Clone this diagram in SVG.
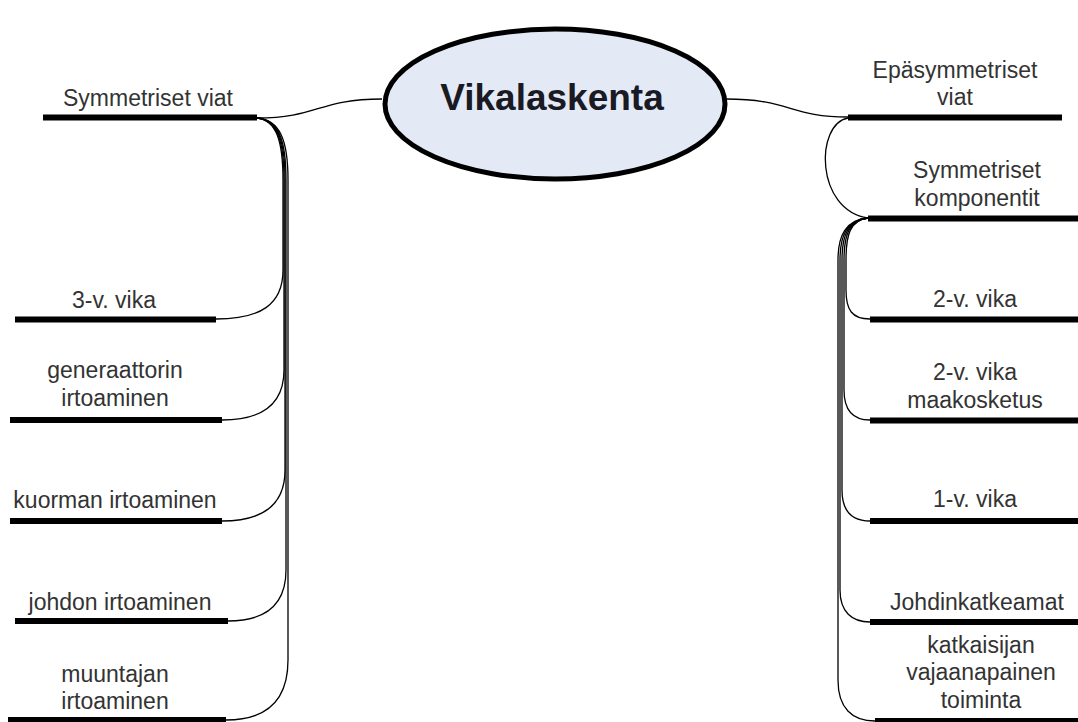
<svg xmlns="http://www.w3.org/2000/svg" width="1078" height="722" viewBox="0 0 1078 722">
<style>
.bar{stroke:#000;stroke-width:6;fill:none}
.c{stroke:#000;stroke-width:1.3;fill:none}
.t{font-family:"Liberation Sans",Arial,sans-serif;font-size:23px;fill:#333;text-anchor:middle}
.title{font-family:"Liberation Sans",Arial,sans-serif;font-size:37px;font-weight:bold;fill:#1a1a24;text-anchor:middle}
</style>
<rect width="1078" height="722" fill="#fff"/>
<g id="connectors">
<path class="c" d="M257,118 C318,118 318,99 382,99"/>
<path class="c" d="M726,99 C790,99 790,117 848,117"/>
<path class="c" d="M848,118 C815,124 815,210 868,218"/>
<path class="c" d="M257,118 C276,120 283,140 283,180 L283,270 C283,305 260,319 216,319"/>
<path class="c" d="M257,118 C277,120 284,140 284,180 L284,370 C284,405 262,420 222,420"/>
<path class="c" d="M257,118 C278,120 285,140 285,180 L285,470 C285,505 262,521 222,521"/>
<path class="c" d="M257,118 C279,120 286,140 286,180 L286,570 C286,605 265,621 228,621"/>
<path class="c" d="M257,118 C280,120 288,140 288,180 L288,660 C288,700 268,720 226,720"/>
<path class="c" d="M868,218 C850,220 846,235 846,260 L846,290 C846,310 852,319 870,319"/>
<path class="c" d="M868,218 C849,220 844,235 844,260 L844,390 C844,410 852,420 870,420"/>
<path class="c" d="M868,218 C848,220 842,235 842,260 L842,490 C842,512 852,521 870,521"/>
<path class="c" d="M868,218 C847,220 840,235 840,260 L840,590 C840,612 852,622 870,622"/>
<path class="c" d="M868,218 C846,220 838,235 838,260 L838,680 C838,708 852,721 875,721"/>
</g>
<g id="root">
<ellipse cx="555" cy="104" rx="170" ry="75" fill="#e3eaf6" stroke="#000" stroke-width="5"/>
<text class="title" x="552" y="110">Vikalaskenta</text>
</g>
<g id="symmetriset-viat">
<line class="bar" x1="43" y1="117.5" x2="257" y2="117.5"/>
<text class="t" x="148" y="106">Symmetriset viat</text>
</g>
<g id="kolmev">
<line class="bar" x1="15" y1="319.5" x2="216" y2="319.5"/>
<text class="t" x="114" y="308">3-v. vika</text>
</g>
<g id="generaattorin">
<line class="bar" x1="10" y1="420" x2="222" y2="420"/>
<text class="t" x="115" y="378">generaattorin</text>
<text class="t" x="115" y="406">irtoaminen</text>
</g>
<g id="kuorman">
<line class="bar" x1="10" y1="521" x2="222" y2="521"/>
<text class="t" x="115" y="508">kuorman irtoaminen</text>
</g>
<g id="johdon">
<line class="bar" x1="15" y1="621" x2="228" y2="621"/>
<text class="t" x="120" y="610">johdon irtoaminen</text>
</g>
<g id="muuntajan">
<line class="bar" x1="8" y1="720" x2="226" y2="720"/>
<text class="t" x="115" y="682">muuntajan</text>
<text class="t" x="115" y="709">irtoaminen</text>
</g>
<g id="epasymmetriset">
<line class="bar" x1="848" y1="117.5" x2="1062" y2="117.5"/>
<text class="t" x="955" y="78">Epäsymmetriset</text>
<text class="t" x="955" y="105">viat</text>
</g>
<g id="symmetriset-komponentit">
<line class="bar" x1="868" y1="218.5" x2="1078" y2="218.5"/>
<text class="t" x="977" y="178">Symmetriset</text>
<text class="t" x="977" y="206">komponentit</text>
</g>
<g id="kaksiv">
<line class="bar" x1="870" y1="319.5" x2="1078" y2="319.5"/>
<text class="t" x="975" y="307">2-v. vika</text>
</g>
<g id="kaksiv-maa">
<line class="bar" x1="870" y1="420.5" x2="1078" y2="420.5"/>
<text class="t" x="975" y="380">2-v. vika</text>
<text class="t" x="975" y="408">maakosketus</text>
</g>
<g id="yksiv">
<line class="bar" x1="870" y1="521" x2="1078" y2="521"/>
<text class="t" x="975" y="507">1-v. vika</text>
</g>
<g id="johdinkatkeamat">
<line class="bar" x1="870" y1="622" x2="1078" y2="622"/>
<text class="t" x="977" y="610">Johdinkatkeamat</text>
</g>
<g id="katkaisijan">
<line class="bar" x1="875" y1="721" x2="1078" y2="721"/>
<text class="t" x="981" y="653">katkaisijan</text>
<text class="t" x="981" y="680">vajaanapainen</text>
<text class="t" x="981" y="708">toiminta</text>
</g>
</svg>
